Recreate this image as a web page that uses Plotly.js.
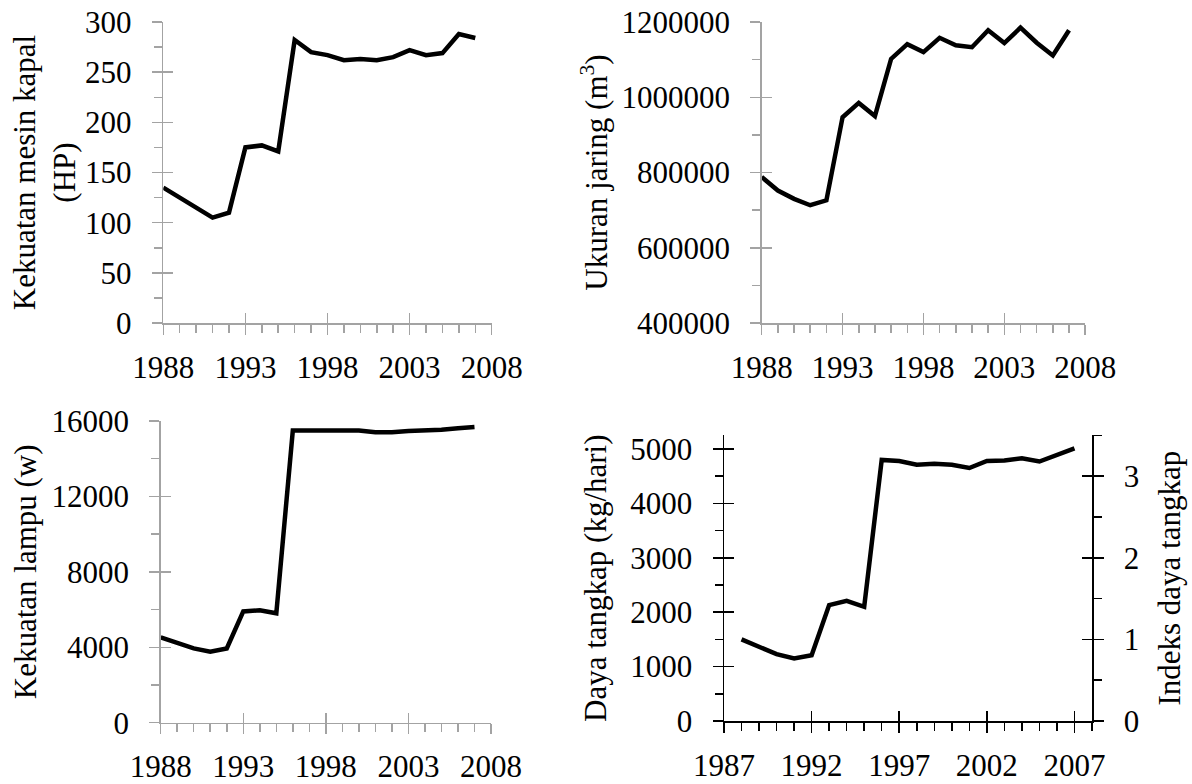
<!DOCTYPE html>
<html>
<head>
<meta charset="utf-8">
<script src="https://cdn.plot.ly/plotly-3.0.1.min.js"></script>
<style>html,body{margin:0;padding:0;background:#fff;}#chart{width:1192px;height:784px;}</style>
</head>
<body>
<div id="chart"></div>
<script>
// ---- Data ----
const years = [1988,1989,1990,1991,1992,1993,1994,1995,1996,1997,1998,1999,2000,2001,2002,2003,2004,2005,2006,2007];
const enginePowerHP = [135,125,114,105,110,175,177,171,282,270,267,262,263,262,265,272,267,269,288,284];
const netSizeM3 = [788000,752000,730000,713000,726000,947000,985000,950000,1102000,1141000,1120000,1158000,1138000,1133000,1178000,1144000,1185000,1145000,1111000,1178000];
const lampPowerW = [4520,4240,3940,3760,3940,5900,5960,5800,15500,15500,15500,15500,15500,15400,15400,15470,15480,15540,15610,15680];
const catchPowerKg = [1500,1370,1230,1150,1210,2130,2210,2100,4800,4780,4710,4730,4710,4650,4780,4790,4830,4770,4900,5010];
const baseCatch = catchPowerKg[0];
const catchIndex = catchPowerKg.map(v => v / baseCatch);

const titles = {
  p1: 'Kekuatan mesin kapal<br>(HP)',
  p2: 'Ukuran jaring (m<sup>3</sup>)',
  p3: 'Kekuatan lampu (w)',
  p4L: 'Daya tangkap (kg/hari)',
  p4R: 'Indeks daya tangkap'
};

// ---- Styling ----
const FONT = "'Liberation Serif', 'Times New Roman', serif";
const FS = 31;
const GRAY = '#a3a3a3';
const BLACK = '#000000';
const TW = 1.5;

function mainX(domain, range, tick0, anchor, color) {
  return {
    domain: domain, range: range, anchor: anchor,
    tickmode: 'linear', tick0: tick0, dtick: 5,
    ticks: 'outside', ticklen: 10, tickwidth: TW, tickcolor: color,
    showline: true, linecolor: color, linewidth: TW,
    showgrid: false, zeroline: false, fixedrange: true,
    tickfont: {family: FONT, size: FS, color: BLACK},
    ticklabelstandoff: 6,
    minor: {tickmode: 'linear', tick0: tick0, dtick: 1, ticks: 'outside', ticklen: 8, tickwidth: TW, tickcolor: color, showgrid: false}
  };
}
function mainY(domain, range, dtick, minorD, anchor, color, title, standoff, side) {
  return {
    domain: domain, range: range, anchor: anchor, side: side || 'left',
    tickmode: 'linear', tick0: 0, dtick: dtick, tickformat: 'd',
    ticks: 'outside', ticklen: 10, tickwidth: TW, tickcolor: color,
    showline: true, linecolor: color, linewidth: TW,
    showgrid: false, zeroline: false, fixedrange: true,
    tickfont: {family: FONT, size: FS, color: BLACK},
    ticklabelstandoff: 14,
    title: {text: title, font: {family: FONT, size: FS, color: BLACK}, standoff: standoff},
    minor: {tickmode: 'linear', tick0: 0, dtick: minorD, ticks: 'outside', ticklen: 8, tickwidth: TW, tickcolor: color, showgrid: false}
  };
}
// overlay axes that draw the inner half of the crossing major ticks
function innerX(over, range, tick0, anchor, color) {
  return {overlaying: over, anchor: anchor, range: range, tickmode: 'linear', tick0: tick0, dtick: 5,
    ticks: 'inside', ticklen: 10, tickwidth: TW, tickcolor: color, showticklabels: false,
    showline: false, showgrid: false, zeroline: false, fixedrange: true};
}
function innerY(over, range, dtick, anchor, color, side) {
  return {overlaying: over, anchor: anchor, side: side || 'left', range: range, tickmode: 'linear', tick0: 0, dtick: dtick,
    ticks: 'inside', ticklen: 10, tickwidth: TW, tickcolor: color, showticklabels: false,
    showline: false, showgrid: false, zeroline: false, fixedrange: true};
}

const px = (a, b) => [a / 1192, b / 1192];
const py = (top, bottom) => [(784 - bottom) / 784, (784 - top) / 784];

const d1x = px(163.3, 491.7), d1y = py(22, 323);
const d2x = px(761.7, 1085.2), d2y = py(22, 323);
const d3x = px(160.7, 491), d3y = py(421, 722.7);
const d4x = px(724, 1092), d4y = py(435.4, 721);

const r1x = [1988, 2008], r1y = [0, 300];
const r2x = [1988, 2008], r2y = [400000, 1200000];
const r3x = [1988, 2008], r3y = [0, 16000];
const r4x = [1987, 2008], r4y = [0, 5250], r4yR = [0, 5250 / baseCatch];

const lineStyle = {color: BLACK, width: 4.5};
const hidden = {color: 'rgba(0,0,0,0)', width: 0};
function tr(y, xa, ya, style) {
  return {type: 'scatter', mode: 'lines', x: years, y: y, xaxis: xa, yaxis: ya, line: style, hoverinfo: 'skip', showlegend: false};
}

const data = [
  tr(enginePowerHP, 'x', 'y', lineStyle),
  tr(netSizeM3, 'x2', 'y2', lineStyle),
  tr(lampPowerW, 'x3', 'y3', lineStyle),
  tr(catchPowerKg, 'x4', 'y4', lineStyle),
  tr(catchIndex, 'x4', 'y5', hidden),
  tr(enginePowerHP, 'x6', 'y6', hidden),
  tr(netSizeM3, 'x7', 'y7', hidden),
  tr(lampPowerW, 'x8', 'y8', hidden),
  tr(catchPowerKg, 'x9', 'y9', hidden),
  tr(catchIndex, 'x9', 'y10', hidden)
];

const layout = {
  width: 1192, height: 784,
  margin: {l: 0, r: 0, t: 0, b: 0, pad: 0},
  paper_bgcolor: '#ffffff', plot_bgcolor: 'rgba(0,0,0,0)',
  showlegend: false,
  font: {family: FONT, size: FS, color: BLACK},
  xaxis: mainX(d1x, r1x, 1988, 'y', GRAY),
  yaxis: mainY(d1y, r1y, 50, 25, 'x', GRAY, titles.p1, 0),
  xaxis2: mainX(d2x, r2x, 1988, 'y2', GRAY),
  yaxis2: Object.assign(mainY(d2y, r2y, 200000, 100000, 'x2', GRAY, titles.p2, 4), {tick0: 400000}),
  xaxis3: mainX(d3x, r3x, 1988, 'y3', GRAY),
  yaxis3: mainY(d3y, r3y, 4000, 2000, 'x3', GRAY, titles.p3, 5),
  xaxis4: mainX(d4x, r4x, 1987, 'y4', BLACK),
  yaxis4: mainY(d4y, r4y, 1000, 500, 'x4', BLACK, titles.p4L, 14),
  yaxis5: Object.assign(mainY(d4y, r4yR, 1, 0.5, 'x4', BLACK, titles.p4R, 20, 'right'), {overlaying: 'y4'}),
  xaxis6: innerX('x', r1x, 1988, 'y6', GRAY),
  yaxis6: innerY('y', r1y, 50, 'x6', GRAY),
  xaxis7: innerX('x2', r2x, 1988, 'y7', GRAY),
  yaxis7: Object.assign(innerY('y2', r2y, 200000, 'x7', GRAY), {tick0: 400000}),
  xaxis8: innerX('x3', r3x, 1988, 'y8', GRAY),
  yaxis8: innerY('y3', r3y, 4000, 'x8', GRAY),
  xaxis9: innerX('x4', r4x, 1987, 'y9', BLACK),
  yaxis9: innerY('y4', r4y, 1000, 'x9', BLACK),
  yaxis10: innerY('y4', r4yR, 1, 'x9', BLACK, 'right')
};
layout.yaxis2.minor.tick0 = 400000;

Plotly.newPlot('chart', data, layout, {staticPlot: true, displayModeBar: false});
</script>
</body>
</html>
